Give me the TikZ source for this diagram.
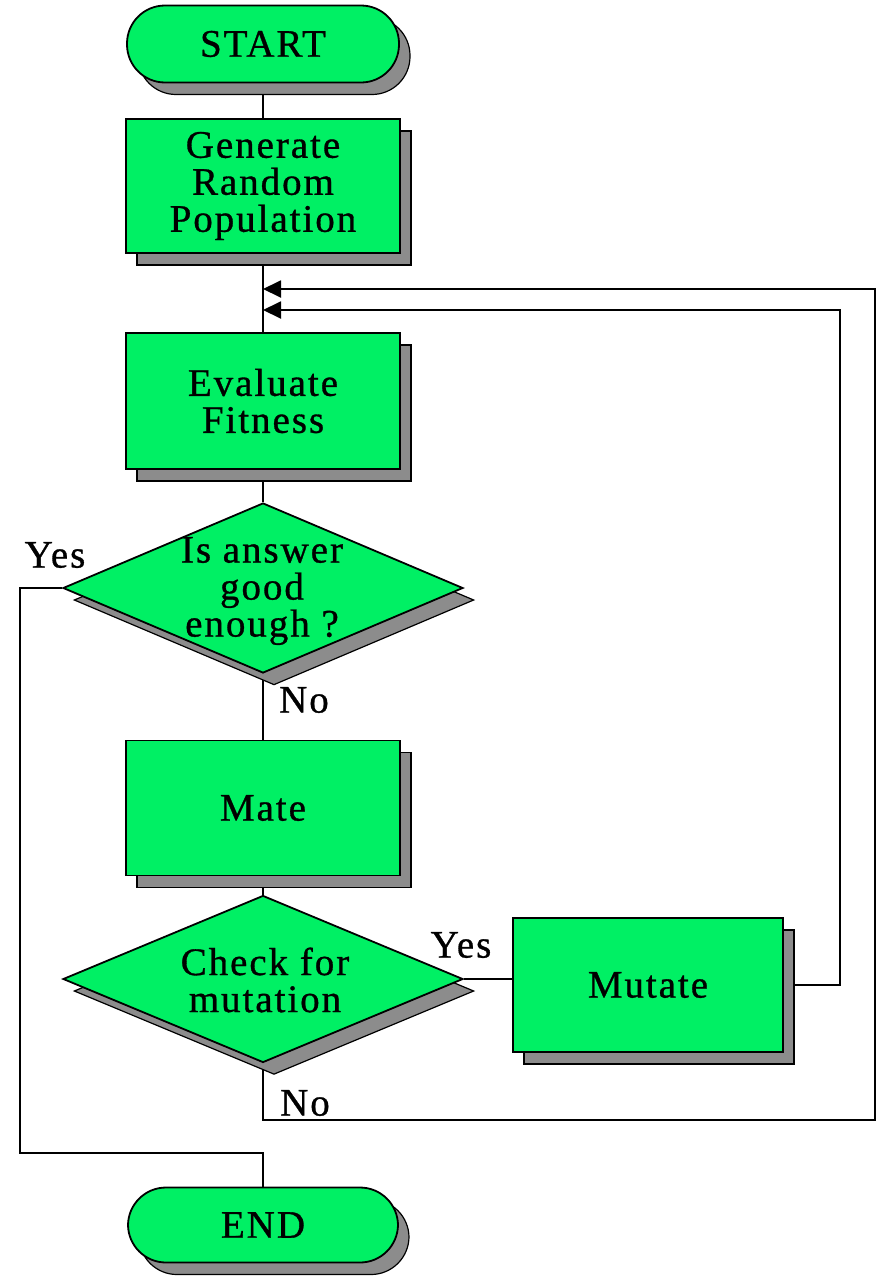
\documentclass[tikz,border=0pt]{standalone}
\usepackage{fontspec}
\setmainfont{Liberation Serif}[LetterSpace=5,FakeBold=0.8]
\usetikzlibrary{shapes.geometric,shadows,backgrounds,arrows.meta}
\definecolor{boxgreen}{HTML}{00F064}
\definecolor{shadowgray}{HTML}{8C8C8C}
\tikzset{
  shad/.style={drop shadow={shadow xshift=11pt,shadow yshift=-12pt,fill=shadowgray,draw=black,line width=1.2pt,opacity=1}},
  procbox/.style={draw=black,line width=1.8pt,fill=boxgreen,shad,inner sep=0pt,align=center,font=\fontsize{39}{37}\selectfont},
  termbox/.style={procbox,rounded corners=38pt},
  decbox/.style={draw=black,line width=1.8pt,fill=boxgreen,diamond,shad,inner sep=0pt},
  txt/.style={inner sep=0pt,align=center,font=\fontsize{39}{37}\selectfont},
  conn/.style={draw=black,line width=1.9pt},
  arr/.style={conn,-{Triangle[length=18pt,width=17pt]}}
}
\begin{document}
\begin{tikzpicture}[x=1pt,y=-1pt]
\useasboundingbox (0,0) rectangle (880,1277);
% nodes
\node[termbox,minimum width=272pt,minimum height=77pt] (start) at (263,44) {START};
\node[procbox,minimum width=274pt,minimum height=134pt] (gen) at (263,186) {Generate\\Random\\Population};
\node[procbox,minimum width=274pt,minimum height=136pt] (eval) at (263,401) {Evaluate\\Fitness};
\node[decbox,minimum width=400pt,minimum height=170pt] (d1) at (263,588) {};
\node[txt] (d1t) at (262,591) {Is answer\\good\\enough ?};
\node[procbox,minimum width=274pt,minimum height=135pt] (mate) at (263,808) {Mate};
\node[decbox,minimum width=400pt,minimum height=167pt] (d2) at (263,979) {};
\node[txt] (d2t) at (265,980) {Check for\\mutation};
\node[procbox,minimum width=270pt,minimum height=134pt] (mut) at (648,985) {Mutate};
\node[termbox,minimum width=270pt,minimum height=75pt] (end) at (263,1225) {END};
% labels
\node[txt] (yes1) at (55,555) {Yes};
\node[txt] (no1) at (304,700) {No};
\node[txt] (yes2) at (461,945) {Yes};
\node[txt] (no2) at (305,1103) {No};
% junctions
\coordinate (j1) at (263,289);
\coordinate (j2) at (263,310);
\begin{scope}[on background layer]
\draw[conn] (start.south) -- (gen.north);
\draw[conn] (gen.south) -- (eval.north);
\draw[conn] (eval.south) -- (d1.north);
\draw[conn] (d1.south) -- (mate.north);
\draw[conn] (mate.south) -- (d2.north);
\draw[conn] (d1.west) -- (20,588) -- (20,1153) -- (263,1153) -- (end.north);
\draw[conn] (d2.east) -- (d2.east -| mut.west);
\draw[arr] (mut.east) -- (840,985) -- (840,310) -- (j2);
\draw[arr] (d2.south) -- (263,1120) -- (875,1120) -- (875,289) -- (j1);
\end{scope}
\end{tikzpicture}
\end{document}
